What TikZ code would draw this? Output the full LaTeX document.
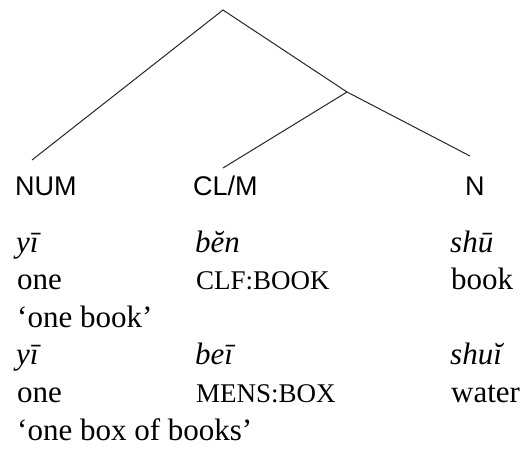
\documentclass[tikz,border=0pt]{standalone}
\usepackage{fontspec}
\setmainfont{Liberation Serif}
\newfontfamily\catfont{Liberation Sans}
\begin{document}
\begin{tikzpicture}[x=1pt,y=-1pt,
  branch/.style={line width=1pt,draw=black!85},
  cat/.style={anchor=base west,inner sep=0pt,font=\catfont\fontsize{27}{30}\selectfont},
  word/.style={anchor=base west,inner sep=0pt,font=\fontsize{31}{38}\selectfont\itshape},
  gloss/.style={anchor=base west,inner sep=0pt,font=\fontsize{31}{38}\selectfont},
  tag/.style={anchor=base west,inner sep=0pt,font=\fontsize{27}{38}\selectfont}]
\useasboundingbox (0,0) rectangle (523,450);

% tree skeleton
\coordinate (root) at (223,10);
\coordinate (np) at (347,92);
\coordinate (numtip) at (32,160);
\coordinate (cltip) at (223,168);
\coordinate (ntip) at (470,156);
\draw[branch] (numtip) -- (root) -- (np) -- (ntip);
\draw[branch] (np) -- (cltip);

% category labels
\node[cat] (num) at (15,195) {NUM};
\node[cat] (clm) at (193,195) {CL/M};
\node[cat] (n) at (465,195) {N};

% first example
\node[word] (w1a) at (16,252) {yī};
\node[word] (w1b) at (195,252) {bĕn};
\node[word] (w1c) at (450,252) {shū};
\node[gloss] (g1a) at (17,289.6) {one};
\node[tag] (g1b) at (196,289.6) {CLF:BOOK};
\node[gloss] (g1c) at (451,289.6) {book};
\node[gloss] (t1) at (17,327.2) {‘one book’};

% second example
\node[word] (w2a) at (16,364.8) {yī};
\node[word] (w2b) at (195,364.8) {beī};
\node[word] (w2c) at (450,364.8) {shuĭ};
\node[gloss] (g2a) at (17,402.4) {one};
\node[tag] (g2b) at (196,402.4) {MENS:BOX};
\node[gloss] (g2c) at (451,402.4) {water};
\node[gloss] (t2) at (17,440) {‘one box of books’};
\end{tikzpicture}
\end{document}
